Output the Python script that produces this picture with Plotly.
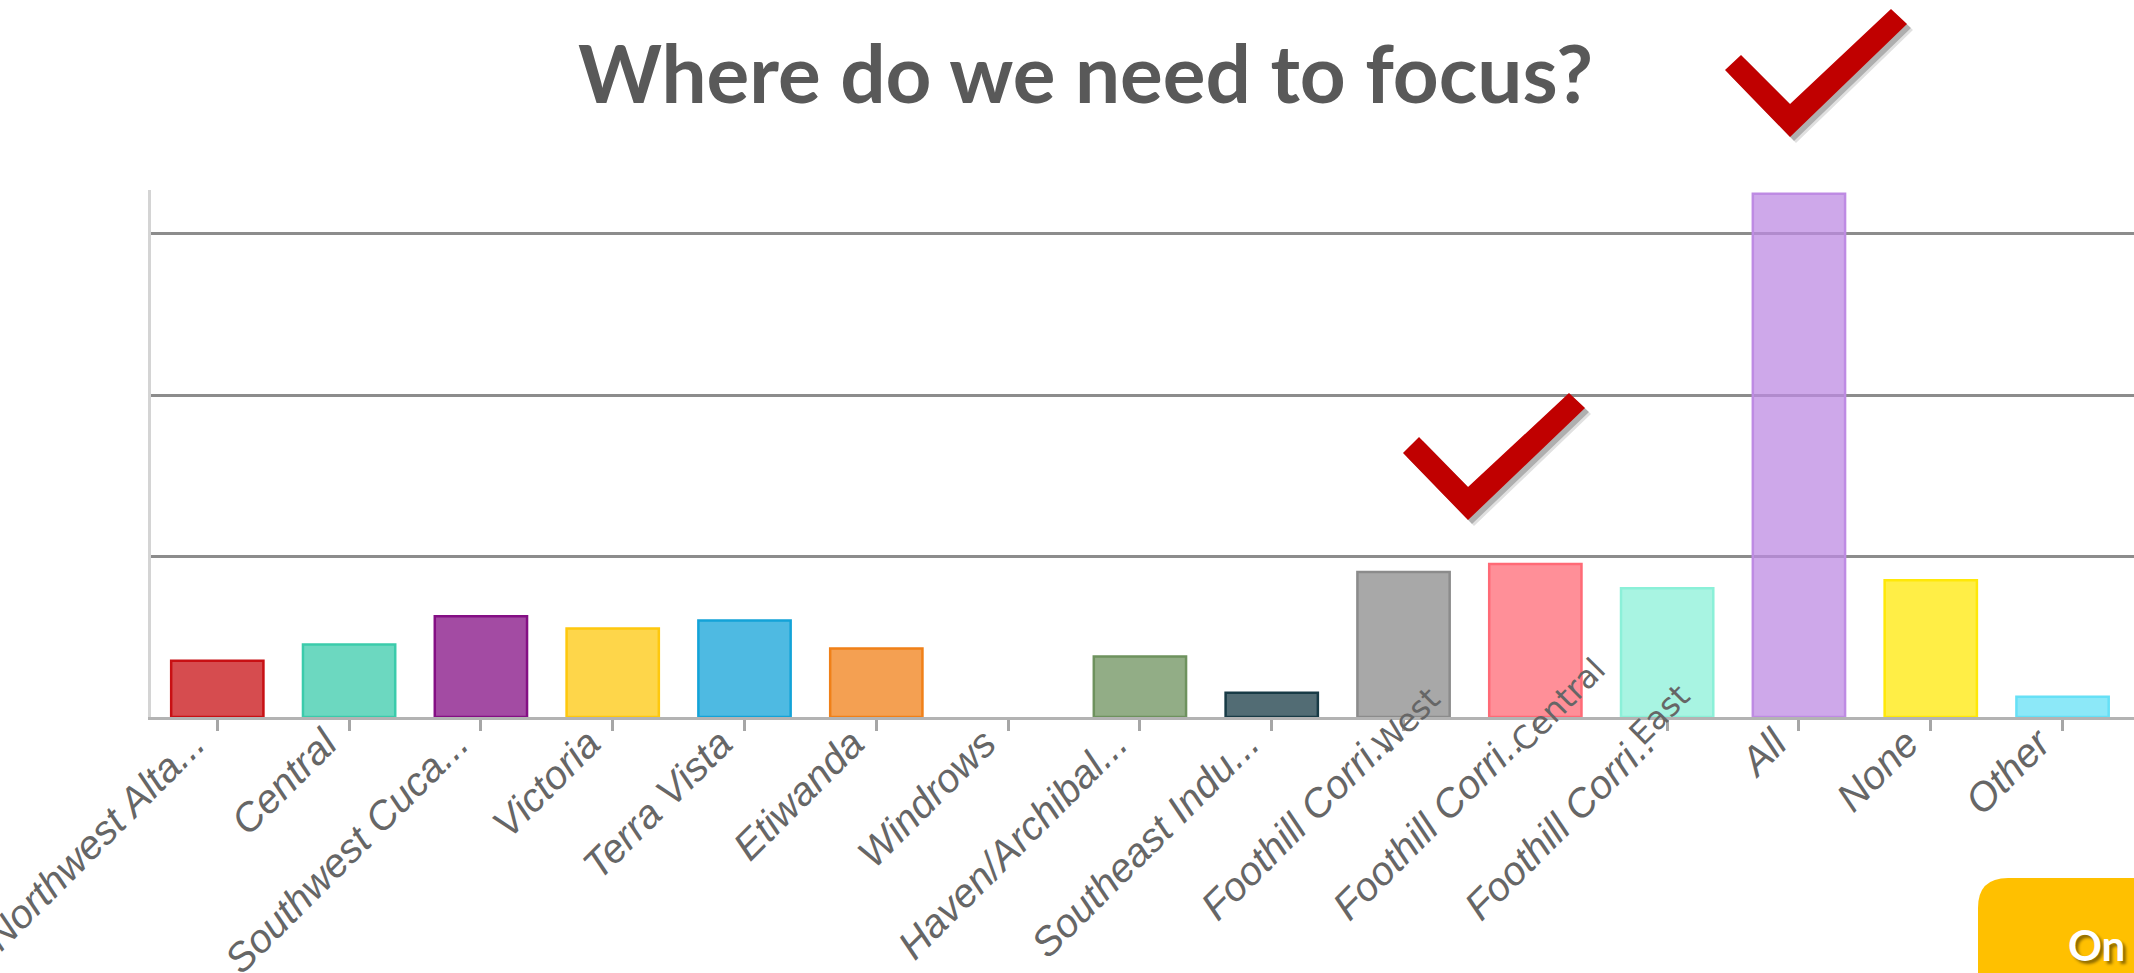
import plotly.graph_objects as go

# ---------------- data ----------------
categories = ["Northwest Alta...", "Central", "Southwest Cuca...", "Victoria", "Terra Vista",
              "Etiwanda", "Windrows", "Haven/Archibal...", "Southeast Indu...",
              "Foothill Corri..West", "Foothill Corri..Central", "Foothill Corri..East",
              "All", "None", "Other"]
tick_labels = ["Northwest Alta...", "Central", "Southwest Cuca...", "Victoria", "Terra Vista",
               "Etiwanda", "Windrows", "Haven/Archibal...", "Southeast Indu...",
               "Foothill Corri..", "Foothill Corri..", "Foothill Corri..",
               "All", "None", "Other"]
label_suffix = ["", "", "", "", "", "", "", "", "", "West", "Central", "East", "", "", ""]
values = [14, 18, 25, 22, 24, 17, 0, 15, 6, 36, 38, 32, 130, 34, 5]
base_colors = [(200, 16, 20), (59, 203, 171), (132, 15, 132), (254, 200, 14), (19, 163, 216),
               (240, 128, 24), (0, 0, 0), (110, 146, 94), (24, 59, 70), (139, 139, 139),
               (255, 106, 118), (139, 240, 216), (190, 139, 227), (255, 232, 8), (102, 224, 246)]
title_text = "Where do we need to focus?"
badge_text = "On"

# ---------------- layout geometry ----------------
W, H = 2134, 973
ML, MR, MT, MB = 151, 0, 190, 256
PW, PH = W - ML - MR, H - MT - MB


def px(x):
    return (x - ML) / PW


def py(y):
    return (H - MB - y) / PH


def path(points, dx=0, dy=0):
    s = "M " + " L ".join(f"{px(x + dx):.5f},{py(y + dy):.5f}" for x, y in points)
    return s + " Z"


fill = [f"rgba({r},{g},{b},0.75)" for r, g, b in base_colors]
edge = [f"rgb({r},{g},{b})" for r, g, b in base_colors]
edge_w = [2.5 if v > 0 else 0 for v in values]

fig = go.Figure()
fig.add_trace(go.Bar(
    x=categories, y=values, width=0.70,
    marker=dict(color=fill, line=dict(color=edge, width=edge_w)),
    hoverinfo="x+y",
))

fig.update_layout(
    width=W, height=H,
    margin=dict(l=ML, r=MR, t=MT, b=MB, pad=0, autoexpand=False),
    paper_bgcolor="white", plot_bgcolor="white",
    showlegend=False,
    xaxis=dict(
        type="category", range=[-0.503, 14.542], automargin=False,
        tickmode="array", tickvals=categories, ticktext=tick_labels,
        tickangle=-45,
        tickfont=dict(family="Liberation Sans, Arial", size=40, color="#666666", style="italic"),
        ticklabelstandoff=-27, ticklabelshift=-24,
        showline=True, linecolor="#b3b3b3", linewidth=3,
        ticks="outside", ticklen=11, tickwidth=2.5, tickcolor="#a6a6a6",
        showgrid=False, zeroline=False,
    ),
    yaxis=dict(
        range=[0, 130.93], tick0=0, dtick=40, automargin=False,
        showticklabels=False, ticks="",
        showgrid=True, gridcolor="#8c8c8c", gridwidth=2.5,
        showline=True, linecolor="#d4d4d4", linewidth=3,
        zeroline=False,
    ),
)

annotations = []
# title
annotations.append(dict(
    text=f"<b>{title_text}</b>", xref="paper", yref="paper",
    x=px(1085), y=py(72), xanchor="center", yanchor="middle", showarrow=False,
    font=dict(family="Lato", size=80, color="#595959"),
))
# suffix parts of long labels
suffix_shift = {"West": (3, -4), "Central": (23, 12), "East": (-8, 2)}
for cat, suf in zip(categories, label_suffix):
    if suf:
        sx, sy = suffix_shift[suf]
        annotations.append(dict(
            text=suf, x=cat, y=0, xref="x", yref="y", showarrow=False,
            textangle=-45, xanchor="center", yanchor="middle", xshift=sx, yshift=sy,
            font=dict(family="DejaVu Sans", size=32, color="#666666"),
        ))
# badge text
annotations.append(dict(
    text=f"<b>{badge_text}</b>", xref="paper", yref="paper",
    x=px(2066), y=py(945), xanchor="left", yanchor="middle", showarrow=False,
    font=dict(family="Lato", size=42, color="white",
              shadow="3px 3px 3px rgba(0,0,0,0.45)"),
))
fig.update_layout(annotations=annotations)

# checkmarks and badge box
check1 = [(1403, 453), (1419, 437), (1468, 487), (1569, 393), (1585, 408), (1468, 520)]
check2 = [(1725, 70), (1741, 55), (1790, 104), (1891, 9), (1907, 24), (1790, 137)]
shapes = []
for chk in (check1, check2):
    shapes.append(dict(type="path", xref="paper", yref="paper", path=path(chk, 6, 6),
                       fillcolor="rgba(0,0,0,0.12)", line=dict(width=0)))
    shapes.append(dict(type="path", xref="paper", yref="paper", path=path(chk, 4, 4),
                       fillcolor="rgba(0,0,0,0.22)", line=dict(width=0)))
    shapes.append(dict(type="path", xref="paper", yref="paper", path=path(chk),
                       fillcolor="#C00000", line=dict(width=0)))

r = 30
bx, by = 1978, 878
badge = (f"M {px(bx):.5f},{py(H + 50):.5f} L {px(bx):.5f},{py(by + r):.5f} "
         f"Q {px(bx):.5f},{py(by):.5f} {px(bx + r):.5f},{py(by):.5f} "
         f"L {px(W + 50):.5f},{py(by):.5f} L {px(W + 50):.5f},{py(H + 50):.5f} Z")
shapes.append(dict(type="path", xref="paper", yref="paper", path=badge,
                   fillcolor="#FFC000", line=dict(width=0), layer="below"))
fig.update_layout(shapes=shapes)

fig.write_html("out.html", config={"displayModeBar": False},
               post_script="document.body.style.margin='0';document.body.style.overflow='hidden';")
